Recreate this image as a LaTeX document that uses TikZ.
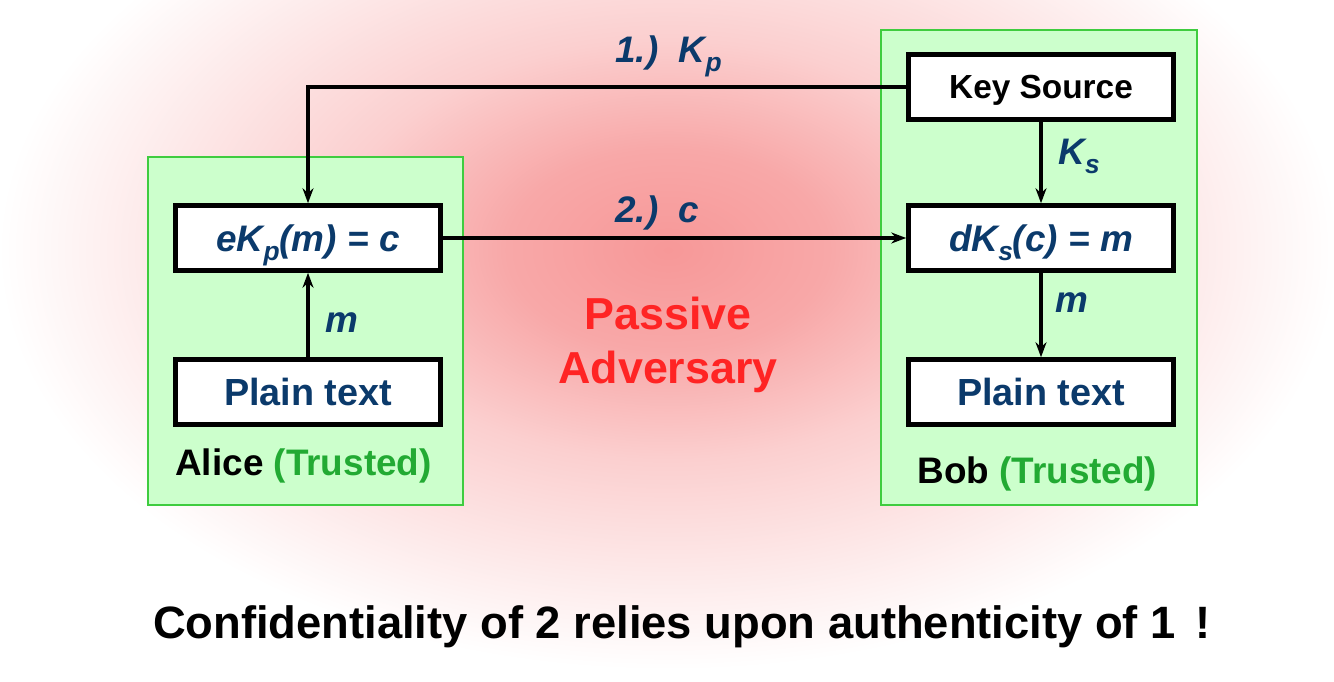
\documentclass[tikz,border=0pt]{standalone}
\usepackage{fontspec}
\setmainfont{Liberation Sans}
\usetikzlibrary{arrows.meta, positioning}
\definecolor{advred}{HTML}{FF2424}
\definecolor{navy}{HTML}{0B3A6B}
\definecolor{trustgreen}{HTML}{22AA33}
\definecolor{zonefill}{HTML}{CCFFCC}
\definecolor{zoneline}{HTML}{3FCC3F}
\definecolor{glowa}{HTML}{F79898}
\definecolor{glowb}{HTML}{F8A8A8}
\definecolor{glowc}{HTML}{FBCFCF}
\definecolor{glowd}{HTML}{FDE8E8}
\pgfdeclareradialshading{threat}{\pgfpoint{0bp}{0bp}}{%
  color(0bp)=(glowa); color(6bp)=(glowb);
  color(12.5bp)=(glowc); color(19bp)=(glowd);
  color(25bp)=(white); color(50bp)=(white)}
\newcommand{\lowsub}[1]{\raisebox{-0.45ex}{\fontsize{15}{15}\selectfont #1}}

\begin{document}
\begin{tikzpicture}[
  >={Stealth[length=3mm, width=2.2mm]},
  stepbox/.style={draw=black, line width=2.6pt, fill=white,
    minimum width=5.3cm, minimum height=1.3cm, inner sep=0pt, text depth=0pt},
  zone/.style={draw=zoneline, line width=1.2pt, fill=zonefill},
  flow/.style={->, line width=2pt},
  lbl/.style={font=\fontsize{21}{21}\selectfont\bfseries\itshape, text=navy, inner sep=0pt},
]

\useasboundingbox (0,0) rectangle (26.68,13.62);

% Background glow
\begin{scope}
  \clip (0,0) rectangle (26.68,13.62);
  \shade[shading=threat] (-0.04,0.22) rectangle (26.76,17.02);
\end{scope}

% Trusted zones
\draw[zone] (2.96,3.52) rectangle (9.26,10.48);
\draw[zone] (17.62,3.52) rectangle (23.94,13.02);

% ========================================
% Alice
% ========================================
\node[stepbox, font=\fontsize{21}{21}\selectfont\bfseries\itshape, text=navy]
  (enc) at (6.16,8.86) {eK\lowsub{p}(m) = c};
\node[stepbox, font=\fontsize{21.5}{21.5}\selectfont\bfseries, text=navy]
  (pta) at (6.16,5.78) {Plain text};
\node[anchor=base west, inner sep=0pt, font=\fontsize{21}{21}\selectfont\bfseries]
  (alice) at (3.5,4.12) {Alice \textcolor{trustgreen}{(Trusted)}};

% ========================================
% Bob
% ========================================
\node[stepbox, font=\fontsize{19}{19}\selectfont\bfseries]
  (ks) at (20.82,11.88) {Key Source};
\node[stepbox, font=\fontsize{21}{21}\selectfont\bfseries\itshape, text=navy]
  (dec) at (20.82,8.86) {dK\lowsub{s}(c) = m};
\node[stepbox, font=\fontsize{21.5}{21.5}\selectfont\bfseries, text=navy]
  (ptb) at (20.82,5.78) {Plain text};
\node[anchor=base west, inner sep=0pt, font=\fontsize{21}{21}\selectfont\bfseries]
  (bob) at (18.34,3.96) {Bob \textcolor{trustgreen}{(Trusted)}};

% Connectors
\draw[flow] (ks.west) -| (enc.north);
\draw[flow] (enc.east) -- (dec.west);
\draw[flow] (ks) -- (dec);
\draw[flow] (dec) -- (ptb);
\draw[flow] (pta) -- (enc);

% Connector labels
\node[lbl, anchor=base west] (kp) at (12.3,12.36) {1.)\ \ K\lowsub{p}};
\node[lbl, anchor=base west] (ct) at (12.3,9.16) {2.)\ \ c};
\node[lbl, anchor=base west] (kslbl) at (21.16,10.32) {K\lowsub{s}};
\node[lbl, anchor=base west] (mb) at (21.1,7.36) {m};
\node[lbl, anchor=base west] (ma) at (6.5,6.96) {m};

% Adversary
\node[font=\fontsize{25.5}{30.5}\selectfont\bfseries, text=advred, align=center]
  (adv) at (13.36,6.72) {Passive\\Adversary};

% Bottom note
\node[font=\fontsize{25.8}{25.8}\selectfont\bfseries] (note) at (13.64,1.08)
  {Confidentiality of 2 relies upon authenticity of 1 \,!};

\end{tikzpicture}
\end{document}
